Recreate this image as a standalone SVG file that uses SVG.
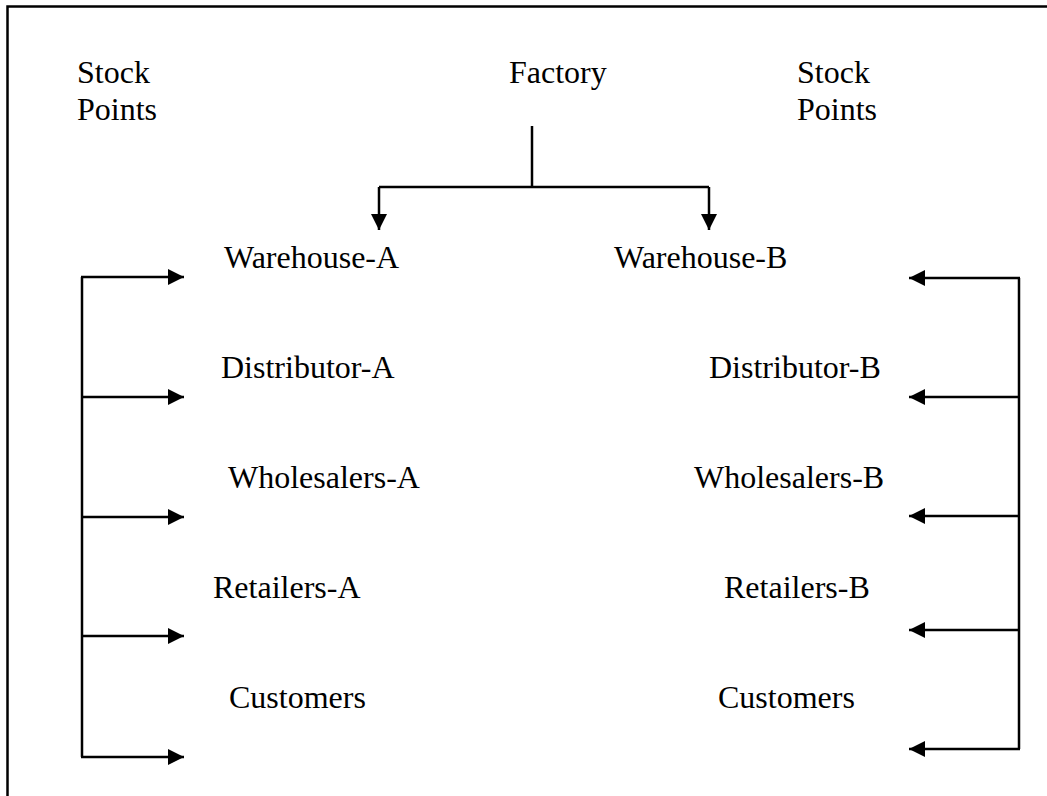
<svg xmlns="http://www.w3.org/2000/svg" width="1047" height="796" viewBox="0 0 1047 796">
  <style>
    .lbl { font-family: "Liberation Serif", "Times New Roman", serif; font-size: 32px; fill: #000; }
    .ln { stroke: #000; stroke-width: 2.5; fill: none; }
  </style>
  <defs>
    <marker id="arrow" viewBox="0 0 16 16" refX="16" refY="8" markerWidth="16" markerHeight="16" markerUnits="userSpaceOnUse" orient="auto">
      <path d="M0,0 L16,8 L0,16 Z" fill="#000"/>
    </marker>
  </defs>
  <rect width="1047" height="796" fill="#fff"/>

  <!-- page frame: top and left edges -->
  <path class="ln" d="M7.5,796 V6.5 H1047"/>

  <g id="stock-points-left"><text class="lbl" x="77" y="83">Stock</text><text class="lbl" x="77" y="120">Points</text></g>
  <g id="factory"><text class="lbl" x="509" y="83">Factory</text></g>
  <g id="stock-points-right"><text class="lbl" x="797" y="83">Stock</text><text class="lbl" x="797" y="120">Points</text></g>

  <g id="warehouse-a"><text class="lbl" x="224" y="268">Warehouse-A</text></g>
  <g id="warehouse-b"><text class="lbl" x="614" y="268">Warehouse-B</text></g>
  <g id="distributor-a"><text class="lbl" x="221" y="378">Distributor-A</text></g>
  <g id="distributor-b"><text class="lbl" x="709" y="378">Distributor-B</text></g>
  <g id="wholesalers-a"><text class="lbl" x="228" y="488">Wholesalers-A</text></g>
  <g id="wholesalers-b"><text class="lbl" x="694" y="488">Wholesalers-B</text></g>
  <g id="retailers-a"><text class="lbl" x="213" y="598">Retailers-A</text></g>
  <g id="retailers-b"><text class="lbl" x="724" y="598">Retailers-B</text></g>
  <g id="customers-a"><text class="lbl" x="229" y="708">Customers</text></g>
  <g id="customers-b"><text class="lbl" x="718" y="708">Customers</text></g>

  <g id="connectors">
    <!-- factory split to both warehouses -->
    <path class="ln" d="M532,126 V187"/>
    <path class="ln" d="M379,187 H709"/>
    <path class="ln" d="M379,187 V230" marker-end="url(#arrow)"/>
    <path class="ln" d="M709,187 V230" marker-end="url(#arrow)"/>

    <!-- left stock-point bracket -->
    <path class="ln" d="M82,277 V757"/>
    <path class="ln" d="M81,277 H184" marker-end="url(#arrow)"/>
    <path class="ln" d="M81,397 H184" marker-end="url(#arrow)"/>
    <path class="ln" d="M81,517 H184" marker-end="url(#arrow)"/>
    <path class="ln" d="M81,636 H184" marker-end="url(#arrow)"/>
    <path class="ln" d="M81,757 H184" marker-end="url(#arrow)"/>

    <!-- right stock-point bracket -->
    <path class="ln" d="M1019,278 V749"/>
    <path class="ln" d="M1020,278 H909" marker-end="url(#arrow)"/>
    <path class="ln" d="M1020,397 H909" marker-end="url(#arrow)"/>
    <path class="ln" d="M1020,516 H909" marker-end="url(#arrow)"/>
    <path class="ln" d="M1020,630 H909" marker-end="url(#arrow)"/>
    <path class="ln" d="M1020,749 H909" marker-end="url(#arrow)"/>
  </g>
</svg>
